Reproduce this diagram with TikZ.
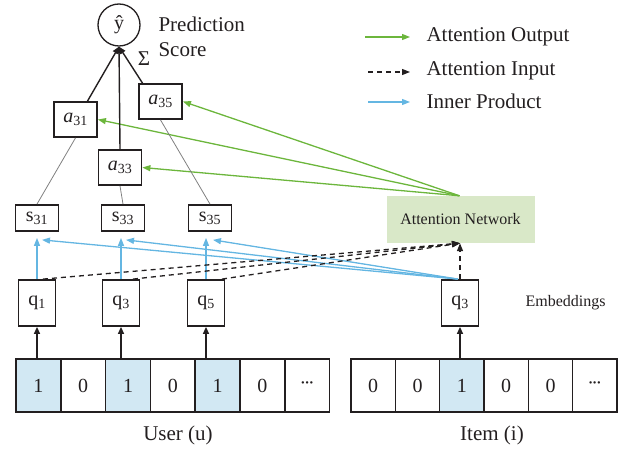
\documentclass[tikz,border=0pt]{standalone}
\usepackage{fontspec}
\setmainfont{Liberation Serif}
\usetikzlibrary{arrows.meta,calc}
\definecolor{gr}{RGB}{108,182,60}
\definecolor{bl}{RGB}{100,182,226}
\definecolor{cellblue}{RGB}{210,232,243}
\definecolor{attfill}{RGB}{217,232,200}
\definecolor{ink}{RGB}{35,31,32}
\newcommand{\mydots}{{\fontsize{20}{20}\selectfont\textperiodcentered\kern-2.5pt\textperiodcentered\kern-2.5pt\textperiodcentered}}
\begin{document}
\begin{tikzpicture}[x=1pt,y=-1pt,
 every node/.style={text=ink},
 box/.style={draw=ink,line width=1.8pt,fill=white,inner sep=0pt,font=\fontsize{20}{22}\selectfont},
 abox/.style={box,minimum width=43pt,minimum height=35pt},
 sbox/.style={box,minimum width=43pt,minimum height=26pt},
 qbox/.style={box,minimum width=37pt,minimum height=46pt},
 cell/.style={draw=ink,line width=1.5pt,minimum height=53pt,inner sep=0pt,font=\fontsize{20}{22}\selectfont},
 ucell/.style={cell,minimum width=44.8pt},
 icell/.style={cell,minimum width=44.33pt},
 hot/.style={fill=cellblue},
 big/.style={font=\fontsize{21}{24}\selectfont},
 small/.style={font=\fontsize{16}{18}\selectfont},
 blk/.style={draw=ink,line width=1.4pt,-{Triangle[length=7pt,width=6pt]}},
 grn/.style={draw=gr,line width=1.3pt,-{Triangle[length=8pt,width=6pt]}},
 blu/.style={draw=bl,line width=1.3pt,-{Triangle[length=8pt,width=6pt]}},
 dsh/.style={draw=ink,line width=1.3pt,dash pattern=on 5pt off 4pt,-{Triangle[length=8pt,width=6pt]}},
 thinl/.style={draw=black!50,line width=0.8pt}
]
\useasboundingbox (0,0) rectangle (627,449);

% one-hot vectors
\node[ucell,hot] (u1) at (38.4,385.5) {1};
\node[ucell]     (u2) at (83.2,385.5) {0};
\node[ucell,hot] (u3) at (128.0,385.5) {1};
\node[ucell]     (u4) at (172.8,385.5) {0};
\node[ucell,hot] (u5) at (217.6,385.5) {1};
\node[ucell]     (u6) at (262.4,385.5) {0};
\node[ucell]     (u7) at (307.2,385.5) {\mydots};
\node[icell]     (i1) at (373.2,385.5) {0};
\node[icell]     (i2) at (417.5,385.5) {0};
\node[icell,hot] (i3) at (461.8,385.5) {1};
\node[icell]     (i4) at (506.2,385.5) {0};
\node[icell]     (i5) at (550.5,385.5) {0};
\node[icell]     (i6) at (594.8,385.5) {\mydots};
\node[big] (ulab) at (178,435) {User (u)};
\node[big] (ilab) at (492,435) {Item (i)};

% embeddings
\node[qbox] (q1) at (37,303) {q\textsubscript{1}};
\node[qbox] (q3u) at (121,303) {q\textsubscript{3}};
\node[qbox] (q5) at (206,303) {q\textsubscript{5}};
\node[qbox] (qi) at (460,303) {q\textsubscript{3}};
\node[small,anchor=west] (emb) at (522,303) {Embeddings};

% inner products
\node[sbox] (s31) at (37,218) {s\textsubscript{31}};
\node[sbox] (s33) at (123,218) {s\textsubscript{33}};
\node[sbox] (s35) at (210,218) {s\textsubscript{35}};

% attention weights
\node[abox] (a31) at (75.5,119.5) {\textit{a}\textsubscript{31}};
\node[abox] (a33) at (120,167.5) {\textit{a}\textsubscript{33}};
\node[abox] (a35) at (160.5,101.5) {\textit{a}\textsubscript{35}};

% prediction
\node[circle,draw=ink,line width=1.3pt,minimum size=42pt,inner sep=0pt,font=\fontsize{20}{22}\selectfont] (yhat) at (119,25) {ŷ};
\node[big,anchor=west] (pred) at (155,24) {Prediction};
\node[big,anchor=west] (score) at (155,50) {Score};
\node[font=\fontsize{21}{23}\selectfont] (sig) at (144,59) {Σ};

% attention network
\node[fill=attfill,minimum width=148pt,minimum height=47pt,inner sep=0pt,small] (att) at (460.5,219.5) {Attention Network};

% legend
\coordinate (g1) at (365,37); \coordinate (g2) at (410,37);
\coordinate (d1) at (368,72); \coordinate (d2) at (410,72);
\coordinate (b1) at (368,102); \coordinate (b2) at (410,102);
\draw[grn] (g1) -- (g2);
\draw[dsh] (d1) -- (d2);
\draw[blu] (b1) -- (b2);
\node[big,anchor=west] (lo) at (423,37) {Attention Output};
\node[big,anchor=west] (li) at (423,71) {Attention Input};
\node[big,anchor=west] (lp) at (423,101) {Inner Product};

% cell -> embedding
\draw[blk] (q1 |- u1.north) -- (q1.south);
\draw[blk] (q3u |- u3.north) -- (q3u.south);
\draw[blk] (q5 |- u5.north) -- (q5.south);
\draw[blk] (qi |- i3.north) -- (qi.south);

% inner product arrows
\draw[blu] (q1.north) -- ($(q1 |- s31.south)+(0,6)$);
\draw[blu] (q3u.north) -- ($(q3u |- s33.south)+(0,6)$);
\draw[blu] (q5.north) -- ($(q5 |- s35.south)+(0,6)$);
\draw[blu] ($(qi.north)+(-2,0)$) -- ($(s31.south)+(5,8)$);
\draw[blu] ($(qi.north)+(-2,0)$) -- ($(s33.south)+(3,8)$);
\draw[blu] ($(qi.north)+(-2,0)$) -- ($(s35.south)+(3,8)$);

% attention input
\draw[dsh] ($(q1.north)+(6,0)$) -- ($(att.south)+(-0.5,0)$);
\draw[dsh] ($(q3u.north)+(12,0)$) -- ($(att.south)+(-0.5,0)$);
\draw[dsh] ($(q5.north)+(16,0)$) -- ($(att.south)+(-0.5,0)$);
\draw[dsh] (qi.north) -- (qi |- att.south);

% attention output
\draw[grn] ($(att.north)+(-1,0)$) -- (a35.east);
\draw[grn] ($(att.north)+(-1,0)$) -- (a31.east);
\draw[grn] ($(att.north)+(-1,0)$) -- (a33.east);

% inner product -> weight
\draw[thinl] (a31.south) -- (s31.north);
\draw[thinl] (a33.south) -- (s33.north);
\draw[thinl] (a35.south) -- (s35.north);

% weights -> prediction
\draw[blk] ($(a31.north)+(12,0)$) -- (yhat.south);
\draw[blk] (a33.north) -- (yhat.south);
\draw[blk] ($(a35.north)+(-18,0)$) -- (yhat.south);
\end{tikzpicture}
\end{document}
